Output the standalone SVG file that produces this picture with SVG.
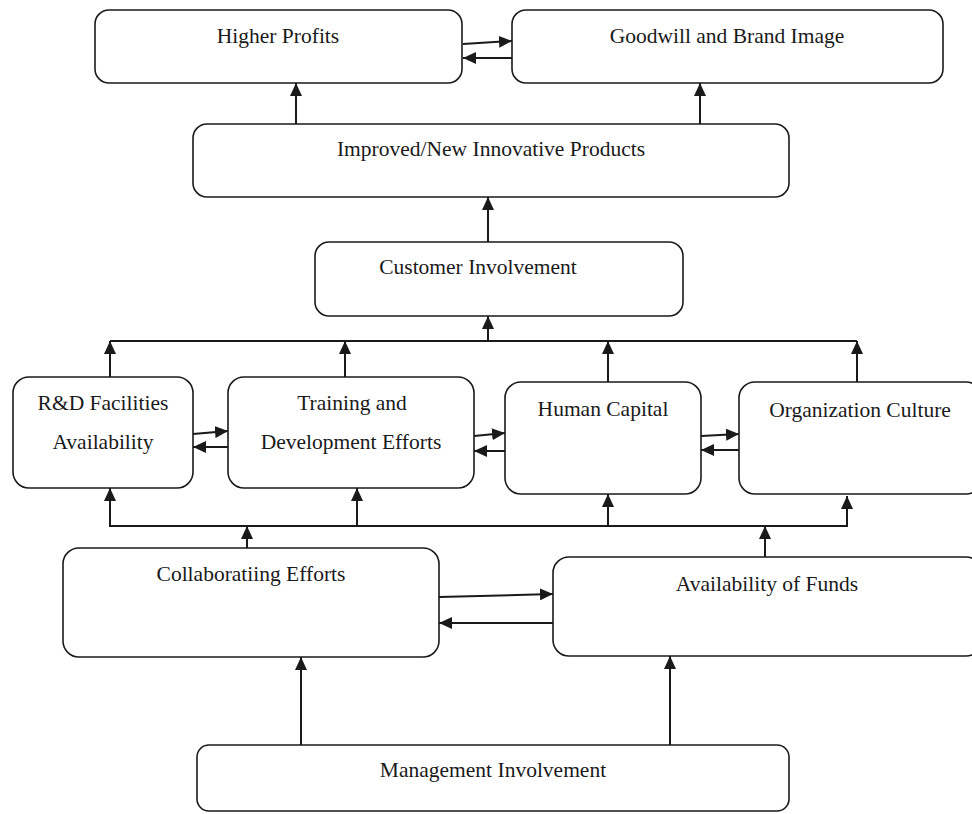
<svg xmlns="http://www.w3.org/2000/svg" width="972" height="814" viewBox="0 0 972 814">
<style>
.box{fill:#fff;stroke:#1a1a1a;stroke-width:1.6}
.t{font-family:"Liberation Serif","Times New Roman",serif;font-size:21.5px;fill:#1a1a1a;text-anchor:middle}
.c{stroke:#1a1a1a;stroke-width:2;fill:none}
.a{marker-end:url(#ah)}
</style>
<defs>
<marker id="ah" markerUnits="userSpaceOnUse" markerWidth="13" markerHeight="12" refX="13" refY="6" orient="auto">
<path d="M0,0 L13,6 L0,12 z" fill="#1a1a1a"/>
</marker>
</defs>
<rect width="972" height="814" fill="#fff"/>
<g id="connectors">
<line class="c a" x1="463" y1="44" x2="512" y2="41"/>
<line class="c a" x1="512" y1="58" x2="463" y2="58"/>
<line class="c a" x1="296" y1="124" x2="296" y2="83"/>
<line class="c a" x1="700" y1="124" x2="700" y2="83"/>
<line class="c a" x1="488" y1="242" x2="488" y2="197"/>
<line class="c" x1="110" y1="341" x2="857" y2="341"/>
<line class="c a" x1="488" y1="341" x2="488" y2="316"/>
<line class="c a" x1="110" y1="377" x2="110" y2="341"/>
<line class="c a" x1="345" y1="377" x2="345" y2="341"/>
<line class="c a" x1="608" y1="382" x2="608" y2="341"/>
<line class="c a" x1="857" y1="382" x2="857" y2="341"/>
<line class="c a" x1="193" y1="434" x2="228" y2="431"/>
<line class="c a" x1="228" y1="447" x2="193" y2="447"/>
<line class="c a" x1="474" y1="436" x2="505" y2="433"/>
<line class="c a" x1="505" y1="451" x2="474" y2="451"/>
<line class="c a" x1="701" y1="436" x2="739" y2="434"/>
<line class="c a" x1="739" y1="450" x2="701" y2="450"/>
<line class="c" x1="110" y1="526" x2="847" y2="526"/>
<line class="c a" x1="110" y1="527" x2="110" y2="488"/>
<line class="c a" x1="357" y1="527" x2="357" y2="488"/>
<line class="c a" x1="608" y1="527" x2="608" y2="494"/>
<line class="c a" x1="847" y1="527" x2="847" y2="496"/>
<line class="c a" x1="247" y1="548" x2="247" y2="526"/>
<line class="c a" x1="765" y1="557" x2="765" y2="526"/>
<line class="c a" x1="439" y1="597" x2="553" y2="594"/>
<line class="c a" x1="553" y1="623" x2="439" y2="623"/>
<line class="c a" x1="301" y1="745" x2="301" y2="657"/>
<line class="c a" x1="670" y1="745" x2="670" y2="656"/>
</g>
<g id="higher-profits"><rect class="box" x="95" y="10" width="367" height="73" rx="14"/><text class="t" x="278" y="42.5">Higher Profits</text></g>
<g id="goodwill"><rect class="box" x="512" y="10" width="431" height="73" rx="14"/><text class="t" x="727" y="42.5">Goodwill and Brand Image</text></g>
<g id="improved"><rect class="box" x="193" y="124" width="596" height="73" rx="14"/><text class="t" x="491" y="156">Improved/New Innovative Products</text></g>
<g id="customer"><rect class="box" x="315" y="242" width="368" height="74" rx="14"/><text class="t" x="478" y="274">Customer Involvement</text></g>
<g id="rnd"><rect class="box" x="13" y="377" width="180" height="111" rx="16"/><text class="t" x="103" y="410">R&amp;D Facilities</text><text class="t" x="103" y="449">Availability</text></g>
<g id="training"><rect class="box" x="228" y="377" width="246" height="111" rx="16"/><text class="t" x="352" y="410">Training and</text><text class="t" x="351" y="449">Development Efforts</text></g>
<g id="human"><rect class="box" x="505" y="382" width="196" height="112" rx="16"/><text class="t" x="603" y="416">Human Capital</text></g>
<g id="org"><rect class="box" x="739" y="382" width="243" height="112" rx="16"/><text class="t" x="860" y="417">Organization Culture</text></g>
<g id="collab"><rect class="box" x="63" y="548" width="376" height="109" rx="16"/><text class="t" x="251" y="581">Collaboratiing Efforts</text></g>
<g id="funds"><rect class="box" x="553" y="557" width="429" height="99" rx="16"/><text class="t" x="767" y="591">Availability of Funds</text></g>
<g id="management"><rect class="box" x="197" y="745" width="592" height="66" rx="12"/><text class="t" x="493" y="777">Management Involvement</text></g>
</svg>
